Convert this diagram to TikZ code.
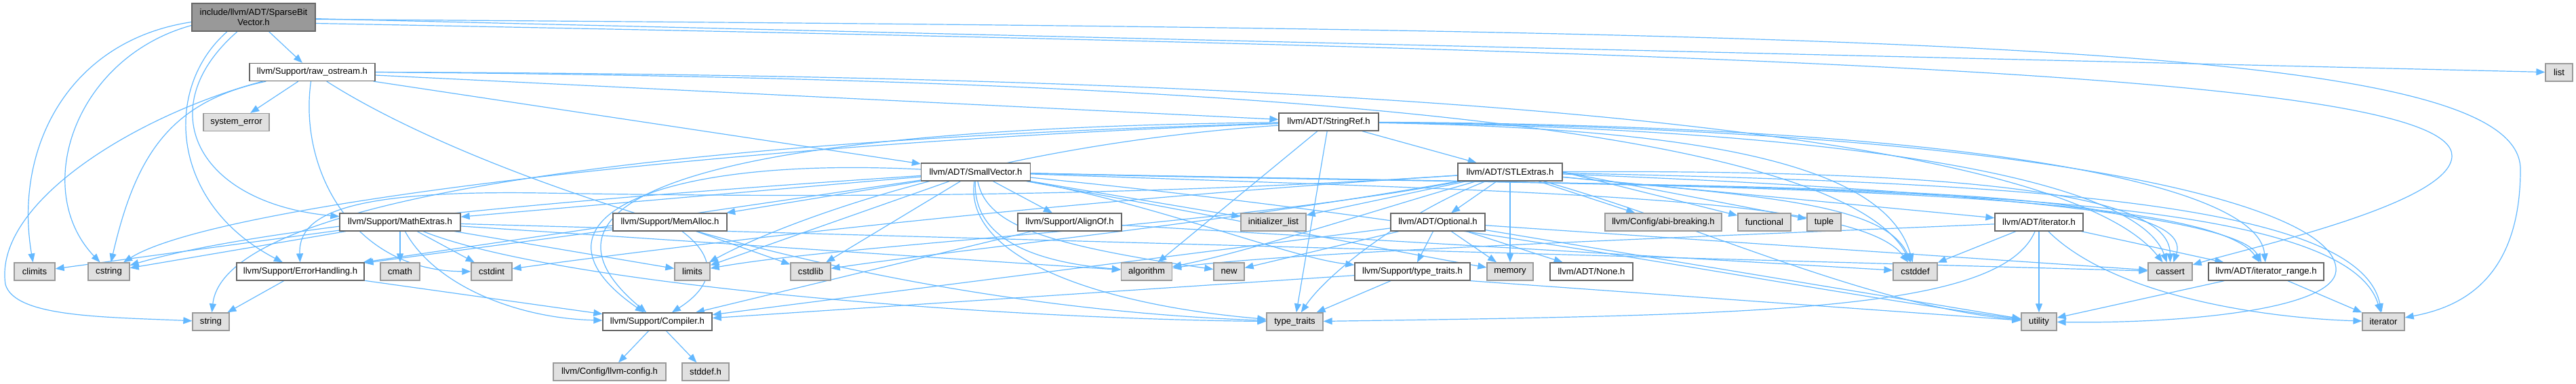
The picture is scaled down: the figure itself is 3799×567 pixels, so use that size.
\documentclass[tikz,border=0pt]{standalone}
\usepackage{fontspec}
\setmainfont{Liberation Sans}
\usetikzlibrary{arrows.meta,calc}
\definecolor{edgeblue}{HTML}{63B8FF}
\definecolor{boxline}{HTML}{666666}
\definecolor{extline}{HTML}{999999}
\definecolor{extfill}{HTML}{E0E0E0}
\definecolor{mainfill}{HTML}{999999}
\pgfdeclarelayer{bg}
\pgfsetlayers{bg,main}
\tikzset{
  hdr/.style={draw=boxline, fill=white, line width=0.65pt, minimum height=13pt, inner sep=0pt, font=\fontsize{6.55}{7.2}\selectfont},
  sys/.style={hdr, draw=extline, fill=extfill},
  topfile/.style={hdr, fill=mainfill, minimum height=20.5pt, align=center},
  dep/.style={draw=edgeblue, line width=0.6pt, -{Triangle[length=6.5pt,width=5pt]}}
}
\begin{document}
\begin{tikzpicture}[x=0.5pt,y=-0.5pt]
\useasboundingbox (0,0) rectangle (3799,567);
% row 0-2
\node[topfile, minimum width=91pt] (main) at (374,25.5) {include/llvm/ADT/SparseBit\\Vector.h};
\node[hdr, minimum width=92.5pt] (raw) at (460.5,106.5) {llvm/Support/raw\_ostream.h};
\node[sys, minimum width=20pt] (list) at (3774,107) {list};
\node[sys, minimum width=48.5pt] (syserr) at (348.5,180.5) {system\_error};
\node[hdr, minimum width=73.5pt] (strref) at (1959.5,180) {llvm/ADT/StringRef.h};
% row 3
\node[hdr, minimum width=80.5pt] (smallvec) at (1439,254) {llvm/ADT/SmallVector.h};
\node[hdr, minimum width=77pt] (stlext) at (2227,254) {llvm/ADT/STLExtras.h};
% row 4
\node[hdr, minimum width=89pt] (mathext) at (590,328) {llvm/Support/MathExtras.h};
\node[hdr, minimum width=84pt] (memalloc) at (988,328) {llvm/Support/MemAlloc.h};
\node[hdr, minimum width=76.5pt] (alignof) at (1577.5,328) {llvm/Support/AlignOf.h};
\node[sys, minimum width=48pt] (initlist) at (1878,328) {initializer\_list};
\node[hdr, minimum width=69.5pt] (optional) at (2120.5,328) {llvm/ADT/Optional.h};
\node[sys, minimum width=86pt] (abibreak) at (2453,328) {llvm/Config/abi-breaking.h};
\node[sys, minimum width=39pt] (functional) at (2602,328) {functional};
\node[sys, minimum width=25pt] (tuple) at (2690,328) {tuple};
\node[hdr, minimum width=65pt] (iterh) at (3007,328) {llvm/ADT/iterator.h};
% row 5
\node[sys, minimum width=30pt] (climits) at (51,401) {climits};
\node[sys, minimum width=30.5pt] (cstring) at (160.5,401) {cstring};
\node[hdr, minimum width=94pt] (errh) at (443,401) {llvm/Support/ErrorHandling.h};
\node[sys, minimum width=29pt] (cmath) at (590,401) {cmath};
\node[sys, minimum width=30pt] (cstdint) at (725,401) {cstdint};
\node[sys, minimum width=26pt] (limits) at (1021,401) {limits};
\node[sys, minimum width=29.5pt] (cstdlib) at (1195.5,401) {cstdlib};
\node[sys, minimum width=37.5pt] (algorithm) at (1691,401) {algorithm};
\node[sys, minimum width=22.5pt] (new) at (1812.5,401) {new};
\node[hdr, minimum width=85pt] (tth) at (2083,401) {llvm/Support/type\_traits.h};
\node[sys, minimum width=34pt] (memory) at (2227,401) {memory};
\node[hdr, minimum width=61pt] (noneh) at (2347,401) {llvm/ADT/None.h};
\node[sys, minimum width=32.5pt] (cstddef) at (2824.5,401) {cstddef};
\node[sys, minimum width=32.5pt] (cassert) at (3200.5,401) {cassert};
\node[hdr, minimum width=85pt] (itrange) at (3342,401) {llvm/ADT/iterator\_range.h};
% row 6
\node[sys, minimum width=27pt] (string) at (311,475) {string};
\node[hdr, minimum width=80.5pt] (compiler) at (969.5,475) {llvm/Support/Compiler.h};
\node[sys, minimum width=41.5pt] (typetraits) at (1909.5,475) {type\_traits};
\node[sys, minimum width=26pt] (utility) at (3007,475) {utility};
\node[sys, minimum width=31pt] (iterator) at (3515,475) {iterator};
% row 7
\node[sys, minimum width=83pt] (llvmconfig) at (899,549) {llvm/Config/llvm-config.h};
\node[sys, minimum width=34.5pt] (stddef) at (1040.5,549) {stddef.h};

\begin{pgfonlayer}{bg}
% main
\draw[dep] (main) -- (raw);
\draw[dep] ($(main.west)+(0,7)$) .. controls (100,60) and (20,220) .. (climits);
\draw[dep] ($(main.west)+(0,12)$) .. controls (110,85) and (45,280) .. (cstring);
\draw[dep] ($(main.south)+(-39,0)$) .. controls (240,130) and (250,300) .. (errh);
\draw[dep] ($(main.south)+(-24,0)$) .. controls (220,160) and (290,300) .. (mathext);
\draw[dep] (main) -- (list);
\draw[dep] ($(main.east)+(0,3)$) .. controls (2800,45) and (3717,60) .. (3717,250) .. controls (3717,420) and (3620,455) .. (iterator);
\draw[dep] ($(main.east)+(0,9)$) .. controls (2600,75) and (3616,110) .. (3616,230) .. controls (3616,300) and (3320,365) .. (cassert);
% raw_ostream
\draw[dep] (raw) -- (syserr);
\draw[dep] ($(raw.south west)+(20,0)$) .. controls (200,170) and (-10,300) .. (8,420) .. controls (22,468) and (150,468) .. (string);
\draw[dep] ($(raw.south west)+(25,0)$) .. controls (250,150) and (200,230) .. (cstring);
\draw[dep] (raw) .. controls (440,250) and (520,400) .. (cstdint);
\draw[dep] (raw) .. controls (700,260) and (1250,450) .. (typetraits);
\draw[dep] (raw) -- (smallvec);
\draw[dep] (raw) -- (strref);
\draw[dep] (raw.east) .. controls (1600,110) and (3000,150) .. (cassert);
\draw[dep] (raw.east) .. controls (1600,115) and (2700,160) .. (cstddef);
% SmallVector
\draw[dep] (smallvec) -- (alignof);
\draw[dep] (smallvec) -- (initlist);
\draw[dep] (smallvec) .. controls (1435,340) and (1500,385) .. (algorithm);
\draw[dep] (smallvec) .. controls (1455,330) and (1530,360) .. (new);
\draw[dep] (smallvec) .. controls (1420,380) and (1620,450) .. (typetraits);
\draw[dep] (smallvec) -- (mathext);
\draw[dep] (smallvec) -- (memalloc);
\draw[dep] (smallvec) -- (errh);
\draw[dep] (smallvec) .. controls (900,290) and (400,330) .. (cstring);
\draw[dep] (smallvec) -- (limits);
\draw[dep] (smallvec) -- (cstdlib);
\draw[dep] (smallvec) .. controls (950,230) and (760,330) .. (compiler);
\draw[dep] (smallvec) .. controls (1700,300) and (1900,380) .. (tth);
\draw[dep] (smallvec) .. controls (1800,320) and (2050,370) .. (memory);
\draw[dep] (smallvec) .. controls (2300,285) and (2740,290) .. (cstddef);
\draw[dep] (smallvec) .. controls (2500,280) and (3250,260) .. (cassert);
\draw[dep] (smallvec) .. controls (2400,275) and (3250,270) .. (itrange);
\draw[dep] (smallvec) .. controls (2600,280) and (3450,260) .. (iterator);
\draw[dep] (smallvec) .. controls (2200,330) and (2600,420) .. (utility);
% StringRef
\draw[dep] (strref) -- (stlext);
\draw[dep] (strref) -- (algorithm);
\draw[dep] (strref) -- (typetraits);
\draw[dep] (strref) .. controls (1000,190) and (760,300) .. (compiler);
\draw[dep] (strref) .. controls (1100,210) and (320,300) .. (cstring);
\draw[dep] (strref) .. controls (900,210) and (330,300) .. (string);
\draw[dep] (strref) .. controls (1450,215) and (1150,330) .. (limits);
\draw[dep] (strref) .. controls (2700,190) and (3150,260) .. (cassert);
\draw[dep] (strref) .. controls (2500,190) and (2780,240) .. (cstddef);
\draw[dep] (strref) .. controls (2900,185) and (3330,270) .. (itrange);
\draw[dep] (strref) .. controls (3000,190) and (3450,300) .. (3445,400) .. controls (3440,460) and (3200,478) .. (utility);
% STLExtras
\draw[dep] (stlext) -- (optional);
\draw[dep] (stlext) -- (memory);
\draw[dep] (stlext) -- (abibreak);
\draw[dep] (stlext.east) -- (functional);
\draw[dep] (stlext.east) -- (tuple);
\draw[dep] (stlext) -- (iterh);
\draw[dep] (stlext) .. controls (2900,280) and (3300,320) .. (itrange);
\draw[dep] (stlext) .. controls (3000,270) and (3480,300) .. (iterator);
\draw[dep] (stlext) .. controls (3000,250) and (3200,300) .. (cassert);
\draw[dep] (stlext) .. controls (2600,290) and (2780,300) .. (cstddef);
\draw[dep] (stlext) .. controls (2500,330) and (2750,450) .. (utility);
\draw[dep] (stlext) .. controls (1600,295) and (1100,290) .. (800,285) .. controls (500,280) and (440,320) .. (errh);
\draw[dep] (stlext) .. controls (2060,300) and (1850,370) .. (algorithm);
\draw[dep] (stlext) .. controls (1500,300) and (950,370) .. (cstdint);
\draw[dep] (stlext) .. controls (1800,330) and (1400,370) .. (cstdlib);
\draw[dep] (stlext) .. controls (1800,335) and (1250,360) .. (limits);
\draw[dep] (stlext) -- (initlist);
\draw[dep] (stlext) .. controls (2080,310) and (1960,400) .. (typetraits);
% Optional
\draw[dep] (optional) -- (noneh);
\draw[dep] (optional) -- (memory);
\draw[dep] (optional) -- (tth);
\draw[dep] (optional) -- (compiler);
\draw[dep] (optional) -- (new);
\draw[dep] (optional) -- (cassert);
\draw[dep] (optional) -- (utility);
% type_traits.h
\draw[dep] (tth) -- (typetraits);
\draw[dep] (tth) -- (compiler);
\draw[dep] (tth.south east) -- (utility);
% iterator.h
\draw[dep] (iterh) -- (itrange);
\draw[dep] (iterh) -- (cstddef);
\draw[dep] (iterh) -- (utility);
\draw[dep] (iterh) .. controls (3120,440) and (3350,470) .. (iterator);
\draw[dep] (iterh) .. controls (2500,350) and (1900,372) .. (algorithm);
\draw[dep] (iterh) .. controls (2950,460) and (2600,465) .. (typetraits);
% iterator_range.h
\draw[dep] (itrange) -- (iterator);
\draw[dep] (itrange) -- (utility);
% ErrorHandling
\draw[dep] (errh) -- (string);
\draw[dep] (errh) -- (compiler);
% MathExtras
\draw[dep] (mathext) -- (climits);
\draw[dep] (mathext) -- (cstring);
\draw[dep] (mathext) -- (cmath);
\draw[dep] (mathext) -- (cstdint);
\draw[dep] (mathext) -- (limits);
\draw[dep] (mathext) -- (algorithm);
\draw[dep] (mathext) -- (cassert);
\draw[dep] (mathext) .. controls (820,420) and (1450,470) .. (typetraits);
\draw[dep] (mathext) .. controls (640,420) and (760,470) .. (compiler);
% MemAlloc
\draw[dep] (memalloc) .. controls (1070,390) and (1040,430) .. (compiler);
\draw[dep] (memalloc) -- (cstdlib);
\draw[dep] (memalloc) -- (errh);
% AlignOf
\draw[dep] (alignof) -- (compiler);
\draw[dep] (alignof) -- (cstddef);
% Compiler
\draw[dep] (compiler) -- (llvmconfig);
\draw[dep] (compiler) -- (stddef);
\end{pgfonlayer}
\end{tikzpicture}
\end{document}
